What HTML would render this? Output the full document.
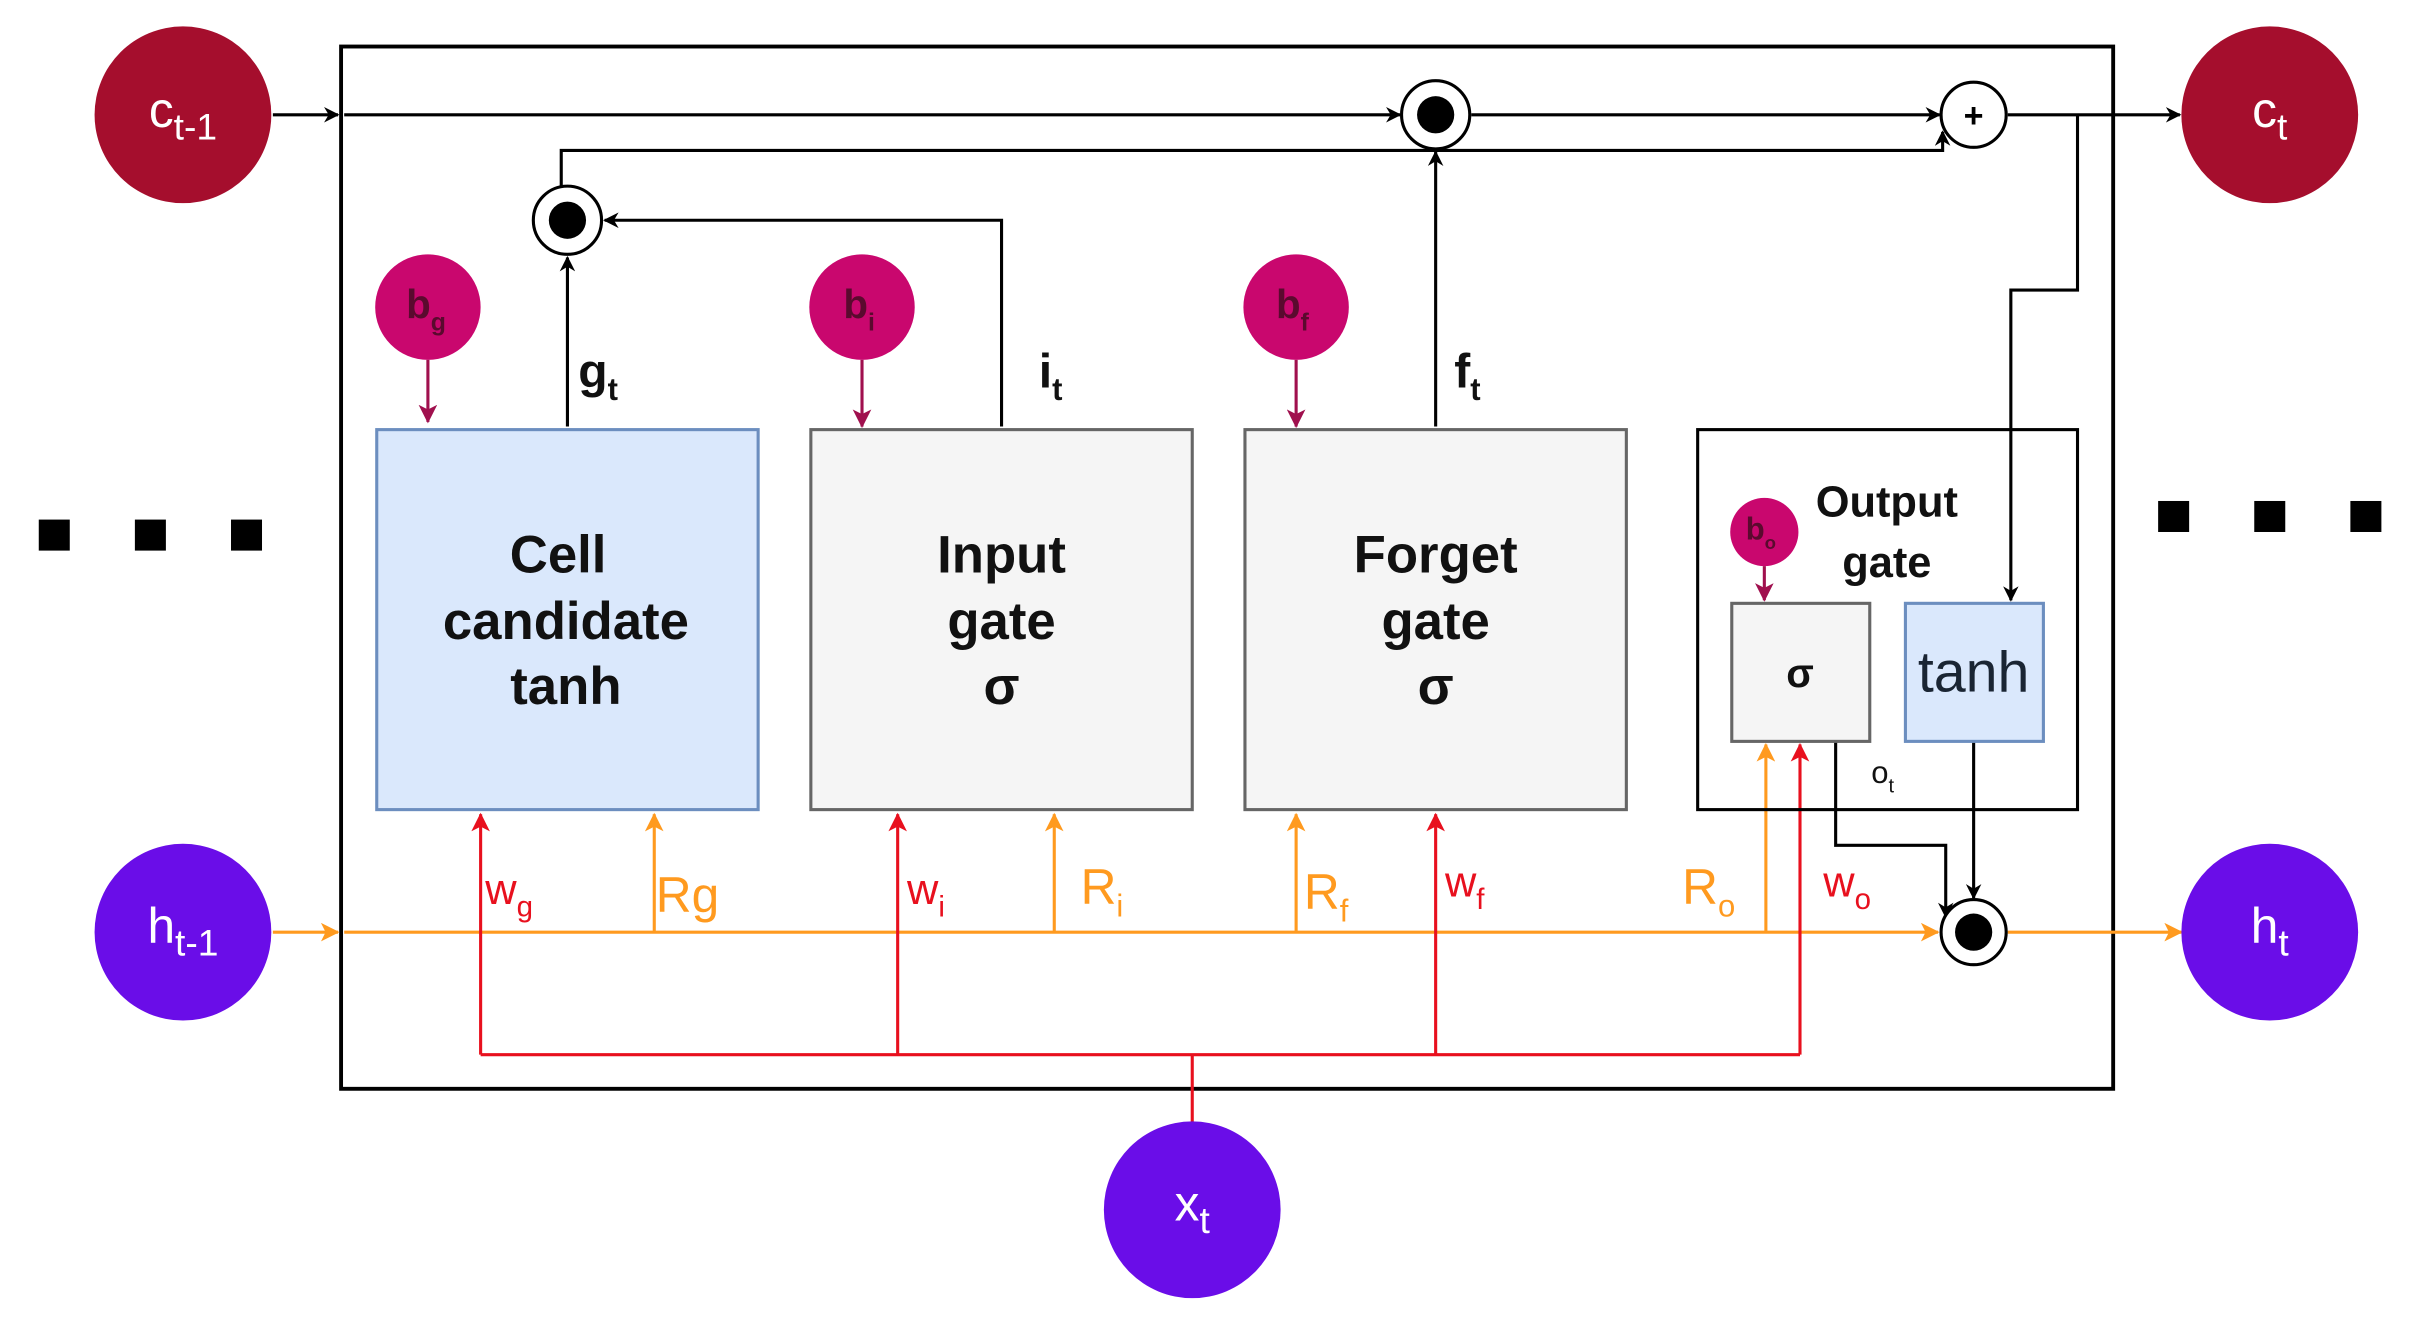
<!DOCTYPE html>
<html><head><meta charset="utf-8"><style>
html,body{margin:0;padding:0;background:#fff;}
svg{display:block;}
text{font-family:"Liberation Sans",sans-serif;}
</style></head><body>
<svg width="2431" height="1323" viewBox="0 0 1568 853" preserveAspectRatio="none" xmlns="http://www.w3.org/2000/svg">
<defs>
<marker id="ak" markerWidth="10" markerHeight="10" refX="9" refY="5" orient="auto" markerUnits="userSpaceOnUse"><path d="M0,0 L10,5 L0,10 L3,5z" fill="#000"/></marker>
<marker id="ao" markerWidth="12" markerHeight="12" refX="11" refY="6" orient="auto" markerUnits="userSpaceOnUse"><path d="M0,0 L12,6 L0,12 L3,6z" fill="#ff9a1f"/></marker>
<marker id="ar" markerWidth="12" markerHeight="12" refX="11" refY="6" orient="auto" markerUnits="userSpaceOnUse"><path d="M0,0 L12,6 L0,12 L3,6z" fill="#e8101e"/></marker>
<marker id="ab" markerWidth="12" markerHeight="12" refX="11" refY="6" orient="auto" markerUnits="userSpaceOnUse"><path d="M0,0 L12,6 L0,12 L3,6z" fill="#a0104e"/></marker>
</defs>
<rect width="1568" height="853" fill="#fff"/>
<rect x="220" y="30" width="1143" height="672" fill="none" stroke="#000" stroke-width="2.5"/>
<g fill="#000"><rect x="25" y="335" width="20" height="20"/><rect x="87" y="335" width="20" height="20"/><rect x="149" y="335" width="20" height="20"/>
<rect x="1392" y="323" width="20" height="20"/><rect x="1454" y="323" width="20" height="20"/><rect x="1516" y="323" width="20" height="20"/></g>
<g stroke="#000" stroke-width="2" fill="none">
<line x1="176" y1="74" x2="218" y2="74" marker-end="url(#ak)"/>
<line x1="222" y1="74" x2="903" y2="74" marker-end="url(#ak)"/>
<line x1="949" y1="74" x2="1251" y2="74" marker-end="url(#ak)"/>
<line x1="1295" y1="74" x2="1406" y2="74" marker-end="url(#ak)"/>
<polyline points="362,120 362,97 1253,97 1253,85" marker-end="url(#ak)"/>
<line x1="366" y1="275" x2="366" y2="166" marker-end="url(#ak)"/>
<polyline points="646,275 646,142 390,142" marker-end="url(#ak)"/>
<line x1="926" y1="275" x2="926" y2="98" marker-end="url(#ak)"/>
<polyline points="1340,74 1340,187 1297,187 1297,387" marker-end="url(#ak)"/>
<polyline points="1184,478 1184,545 1255,545 1255,591" marker-end="url(#ak)"/>
<line x1="1273" y1="478" x2="1273" y2="579" marker-end="url(#ak)"/>
</g>
<circle cx="926" cy="74" r="22" fill="#fff" stroke="#000" stroke-width="2"/><circle cx="926" cy="74" r="12" fill="#000"/>
<circle cx="366" cy="142" r="22" fill="#fff" stroke="#000" stroke-width="2"/><circle cx="366" cy="142" r="12" fill="#000"/>
<circle cx="1273" cy="74" r="21" fill="#fff" stroke="#000" stroke-width="2"/>
<text x="1273" y="82" font-size="22" font-weight="bold" text-anchor="middle">+</text>
<g stroke="#ff9a1f" stroke-width="2" fill="none">
<line x1="176" y1="601" x2="218" y2="601" marker-end="url(#ao)"/>
<line x1="222" y1="601" x2="1250" y2="601" marker-end="url(#ao)"/>
<line x1="1295" y1="601" x2="1407" y2="601" marker-end="url(#ao)"/>
<line x1="422" y1="601" x2="422" y2="525" marker-end="url(#ao)"/>
<line x1="680" y1="601" x2="680" y2="525" marker-end="url(#ao)"/>
<line x1="836" y1="601" x2="836" y2="525" marker-end="url(#ao)"/>
<line x1="1139" y1="601" x2="1139" y2="480" marker-end="url(#ao)"/>
</g>
<circle cx="1273" cy="601" r="21" fill="#fff" stroke="#000" stroke-width="2"/><circle cx="1273" cy="601" r="12" fill="#000"/>
<g stroke="#e8101e" stroke-width="2" fill="none">
<line x1="769" y1="725" x2="769" y2="680"/>
<line x1="310" y1="680" x2="1161" y2="680"/>
<line x1="310" y1="680" x2="310" y2="525" marker-end="url(#ar)"/>
<line x1="579" y1="680" x2="579" y2="525" marker-end="url(#ar)"/>
<line x1="926" y1="680" x2="926" y2="525" marker-end="url(#ar)"/>
<line x1="1161" y1="680" x2="1161" y2="480" marker-end="url(#ar)"/>
</g>
<rect x="243" y="277" width="246" height="245" fill="#dae8fc" stroke="#6c8ebf" stroke-width="2"/>
<rect x="523" y="277" width="246" height="245" fill="#f5f5f5" stroke="#666" stroke-width="2"/>
<rect x="803" y="277" width="246" height="245" fill="#f5f5f5" stroke="#666" stroke-width="2"/>
<rect x="1095" y="277" width="245" height="245" fill="none" stroke="#000" stroke-width="2"/>
<rect x="1117" y="389" width="89" height="89" fill="#f5f5f5" stroke="#666" stroke-width="2"/>
<rect x="1229" y="389" width="89" height="89" fill="#dae8fc" stroke="#6c8ebf" stroke-width="2"/>
<g font-size="34" font-weight="bold" text-anchor="middle" fill="#111">
<text x="360" y="369">Cell</text><text x="365" y="412">candidate</text><text x="365" y="454">tanh</text>
<text x="646" y="369">Input</text><text x="646" y="412">gate</text><text x="646" y="454">σ</text>
<text x="926" y="369">Forget</text><text x="926" y="412">gate</text><text x="926" y="454">σ</text>
<text x="1161" y="443" font-size="26">σ</text>
<text x="1217" y="333" font-size="28">Output</text><text x="1217" y="372" font-size="28">gate</text>
</g>
<text x="1273" y="446" font-size="37" text-anchor="middle" fill="#1a2533">tanh</text>
<g fill="#c9076e"><circle cx="276" cy="198" r="34"/><circle cx="556" cy="198" r="34"/><circle cx="836" cy="198" r="34"/><circle cx="1138" cy="343" r="22"/></g>
<g stroke="#a0104e" stroke-width="2">
<line x1="276" y1="232" x2="276" y2="272" marker-end="url(#ab)"/>
<line x1="556" y1="232" x2="556" y2="275" marker-end="url(#ab)"/>
<line x1="836" y1="232" x2="836" y2="275" marker-end="url(#ab)"/>
<line x1="1138" y1="365" x2="1138" y2="387" marker-end="url(#ab)"/>
</g>
<g fill="#5a0a2e" font-size="26" font-weight="bold">
<text x="262" y="205">b<tspan font-size="16" dy="8">g</tspan></text>
<text x="544" y="205">b<tspan font-size="16" dy="8">i</tspan></text>
<text x="823" y="205">b<tspan font-size="16" dy="8">f</tspan></text>
<text x="1126" y="348" font-size="20">b<tspan font-size="12" dy="6">o</tspan></text>
</g>
<g font-size="31" fill="#111" font-weight="bold">
<text x="373" y="250">g<tspan font-size="20" dy="8">t</tspan></text>
<text x="670" y="250">i<tspan font-size="20" dy="8">t</tspan></text>
<text x="938" y="250">f<tspan font-size="20" dy="8">t</tspan></text>
</g>
<text x="1207" y="505" font-size="20" fill="#111">o<tspan font-size="13" dy="6">t</tspan></text>
<g fill="#e8101e" font-size="28">
<text x="313" y="583">w<tspan font-size="19" dy="8">g</tspan></text>
<text x="585" y="583">w<tspan font-size="19" dy="8">i</tspan></text>
<text x="932" y="578">w<tspan font-size="19" dy="8">f</tspan></text>
<text x="1176" y="578">w<tspan font-size="19" dy="8">o</tspan></text>
</g>
<g fill="#ff9a1f" font-size="32">
<text x="423" y="588">Rg</text>
<text x="697" y="583">R<tspan font-size="20" dy="8">i</tspan></text>
<text x="841" y="586">R<tspan font-size="20" dy="8">f</tspan></text>
<text x="1085" y="583">R<tspan font-size="20" dy="8">o</tspan></text>
</g>
<circle cx="118" cy="74" r="57" fill="#a50e2d"/><circle cx="1464" cy="74" r="57" fill="#a50e2d"/>
<circle cx="118" cy="601" r="57" fill="#6a0de8"/><circle cx="1464" cy="601" r="57" fill="#6a0de8"/><circle cx="769" cy="780" r="57" fill="#6a0de8"/>
<g fill="#fff" font-size="32" text-anchor="middle">
<text x="118" y="82">c<tspan font-size="24" dy="8">t-1</tspan></text>
<text x="1464" y="82">c<tspan font-size="24" dy="8">t</tspan></text>
<text x="118" y="608">h<tspan font-size="24" dy="8">t-1</tspan></text>
<text x="1464" y="608">h<tspan font-size="24" dy="8">t</tspan></text>
<text x="769" y="787">x<tspan font-size="24" dy="8">t</tspan></text>
</g>
</svg>
</body></html>
